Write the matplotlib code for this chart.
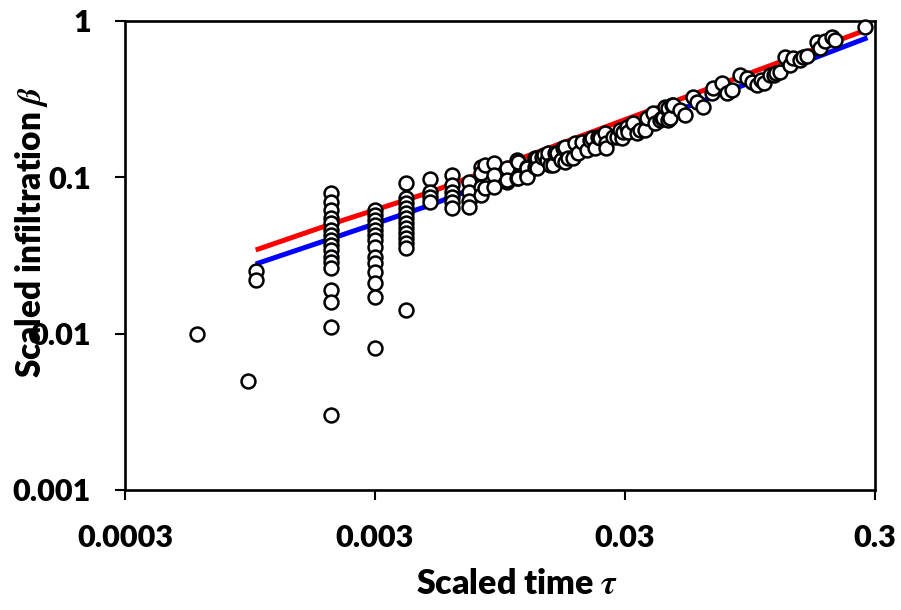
import matplotlib
matplotlib.use("Agg")
import matplotlib.pyplot as plt

plt.rcParams["font.family"] = ["Lato", "DejaVu Sans"]
plt.rcParams["font.weight"] = "bold"
plt.rcParams["mathtext.fontset"] = "stix"

# fitted curves
line_tau = [0.001, 0.002, 0.005, 0.01, 0.02, 0.05, 0.1, 0.2, 0.28]
red_beta = [0.0343, 0.0502, 0.0805, 0.1216, 0.1837, 0.317, 0.479, 0.723, 0.883]
blue_beta = [0.0279, 0.0405, 0.0665, 0.1015, 0.155, 0.272, 0.416, 0.637, 0.782]

# measured points
tau = [
    0.00058, 0.00093, 0.001, 0.001,
    0.002, 0.002, 0.002, 0.002, 0.002, 0.002, 0.002, 0.002, 0.002, 0.002,
    0.002, 0.002, 0.002, 0.002, 0.002, 0.002, 0.002,
    0.003, 0.003, 0.003, 0.003, 0.003, 0.003, 0.003, 0.003, 0.003, 0.003,
    0.003, 0.003, 0.003, 0.003,
    0.004, 0.004, 0.004, 0.004, 0.004, 0.004, 0.004, 0.004, 0.004, 0.004,
    0.004, 0.004, 0.004,
    0.005, 0.005, 0.005, 0.005,
    0.0061, 0.0061, 0.0061, 0.0061, 0.0061, 0.0061,
    0.0071, 0.0071, 0.0071, 0.0071,
    0.008, 0.008, 0.008, 0.008, 0.00826, 0.00826,
    0.009, 0.009, 0.009,
    0.0101, 0.0101, 0.0101, 0.0101,
    0.0111, 0.0111, 0.0112, 0.0112,
    0.0122, 0.0122, 0.0122, 0.0122,
    0.0131, 0.0131, 0.0134, 0.0134, 0.014, 0.0142,
    0.0146, 0.0148, 0.0151, 0.0155, 0.0158, 0.0161, 0.0166, 0.017, 0.0173,
    0.0173, 0.0178, 0.0186, 0.019, 0.0195, 0.0202, 0.0211, 0.0217, 0.0221,
    0.0227, 0.0233, 0.0238, 0.0249, 0.0253, 0.0253, 0.0268, 0.0278, 0.0286,
    0.0292, 0.0294, 0.0305, 0.0308, 0.0323, 0.0336, 0.0344, 0.0361, 0.0367,
    0.0388, 0.0396, 0.0414, 0.0422, 0.0425, 0.0434, 0.0446, 0.0446, 0.0454,
    0.0463, 0.0467, 0.0498, 0.0521, 0.056, 0.0582, 0.0615, 0.0668, 0.0674,
    0.0733, 0.0768, 0.0804, 0.0865, 0.0923, 0.0966, 0.101, 0.105, 0.108,
    0.114, 0.118, 0.12, 0.125, 0.131, 0.137, 0.141, 0.15, 0.154, 0.16,
    0.176, 0.181, 0.19, 0.202, 0.208, 0.274,
]
beta = [
    0.01, 0.005, 0.025, 0.022,
    0.0794, 0.0695, 0.0618, 0.0549, 0.051, 0.046, 0.0428, 0.0397, 0.0369, 0.0343,
    0.0309, 0.0287, 0.0263, 0.019, 0.0159, 0.011, 0.003,
    0.0618, 0.0574, 0.0533, 0.0495, 0.046, 0.0428, 0.0397, 0.0358, 0.0309, 0.0283,
    0.0248, 0.0211, 0.0171, 0.0081,
    0.092, 0.0738, 0.0685, 0.0636, 0.0591, 0.0549, 0.051, 0.0474, 0.044, 0.0409,
    0.038, 0.0353, 0.0142,
    0.097, 0.08, 0.075, 0.07,
    0.103, 0.089, 0.08, 0.075, 0.07, 0.064,
    0.093, 0.081, 0.071, 0.065,
    0.116, 0.106, 0.087, 0.077, 0.12, 0.0854,
    0.123, 0.104, 0.087,
    0.111, 0.093, 0.115, 0.096,
    0.129, 0.099, 0.125, 0.099,
    0.116, 0.104, 0.115, 0.101,
    0.133, 0.117, 0.133, 0.114, 0.135, 0.139,
    0.129, 0.143, 0.12, 0.12, 0.143, 0.143, 0.129, 0.154, 0.156,
    0.125, 0.133, 0.133, 0.166, 0.143, 0.168, 0.149, 0.174, 0.178,
    0.154, 0.181, 0.178, 0.192, 0.166, 0.154, 0.181, 0.181, 0.201,
    0.178, 0.195, 0.21, 0.195, 0.223, 0.192, 0.2, 0.201, 0.24,
    0.258, 0.223, 0.233, 0.24, 0.24, 0.282, 0.278, 0.233, 0.24,
    0.29, 0.29, 0.27, 0.25, 0.326, 0.303, 0.282, 0.346, 0.373,
    0.40, 0.346, 0.36, 0.45, 0.43, 0.41, 0.39, 0.42, 0.40,
    0.45, 0.45, 0.465, 0.47, 0.59, 0.52, 0.58, 0.56, 0.59, 0.6,
    0.73, 0.67, 0.74, 0.79, 0.76, 0.91,
]

x_ticks = [0.0003, 0.003, 0.03, 0.3]
x_labels = ["0.0003", "0.003", "0.03", "0.3"]
y_ticks = [0.001, 0.01, 0.1, 1]
y_labels = ["0.001", "0.01", "0.1", "1"]

fig = plt.figure(figsize=(9.01, 6.10), dpi=100)
ax = fig.add_axes([125 / 901, 120 / 610, 750 / 901, 469 / 610])

ax.plot(line_tau, red_beta, color="#ff0000", linewidth=3.6, zorder=2, solid_capstyle="butt")
ax.plot(line_tau, blue_beta, color="#0000ff", linewidth=3.6, zorder=2, solid_capstyle="butt")

ax.scatter(
    tau, beta,
    s=100,
    facecolor="white",
    edgecolors="black",
    linewidths=1.8,
    zorder=3,
    clip_on=False
)

ax.set_xscale("log")
ax.set_yscale("log")
ax.set_xlim(0.0003, 0.3)
ax.set_ylim(0.001, 1)

ax.set_xticks(x_ticks)
ax.set_xticklabels(x_labels)
ax.set_yticks(y_ticks)
ax.set_yticklabels(y_labels)
ax.minorticks_off()

ax.tick_params(axis="both", which="major", direction="out", length=7.5, width=1.5,
               labelsize=22, pad=17, colors="black")
for lab in ax.get_xticklabels() + ax.get_yticklabels():
    lab.set_fontweight("heavy")

for spine in ax.spines.values():
    spine.set_linewidth(1.9)
    spine.set_color("black")

ax.set_xlabel(r"Scaled time $\tau$", fontsize=24.5, fontweight="heavy",
              ha="center", va="center")
ax.xaxis.set_label_coords((517 - 125) / 750, (490 - 584) / 469)
ax.set_ylabel(r"Scaled infiltration $\beta$", fontsize=24, fontweight="heavy",
              ha="center", va="center")
ax.yaxis.set_label_coords((32 - 125) / 750, (490 - 232) / 469)

fig.savefig("out.png", dpi=100)
